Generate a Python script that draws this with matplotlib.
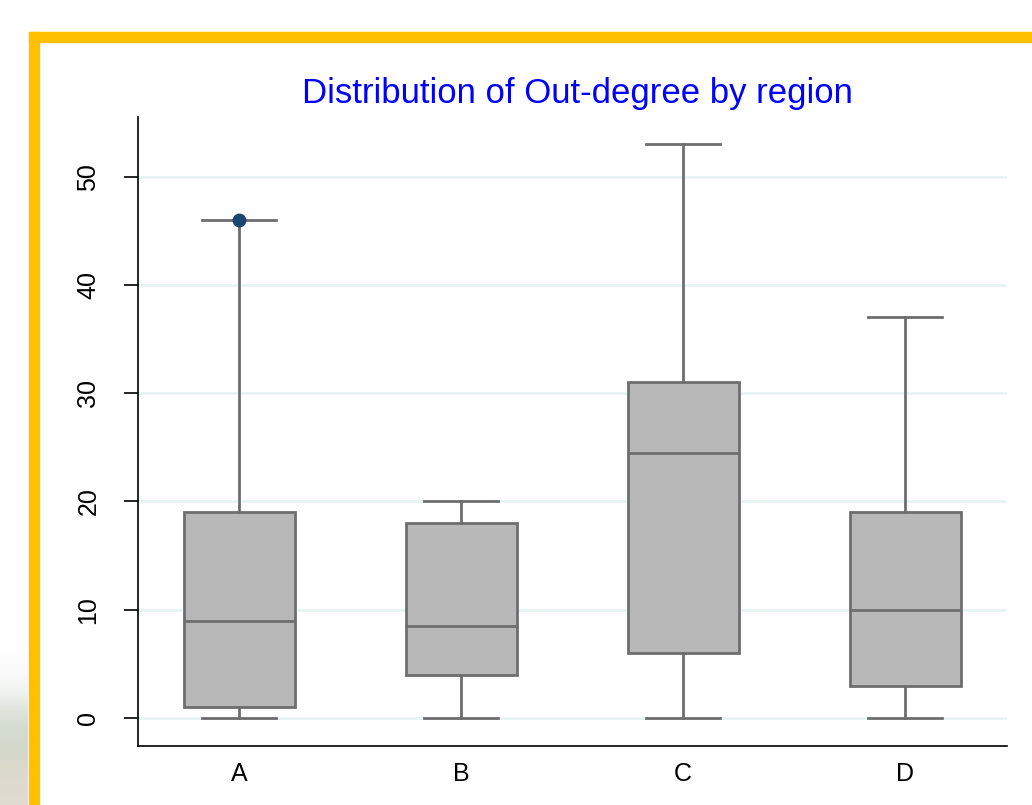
import numpy as np
import matplotlib.pyplot as plt
from matplotlib.patches import Rectangle

plt.rcParams['font.family'] = ['Liberation Sans', 'DejaVu Sans']

# box plot summary per region
regions = ['A', 'B', 'C', 'D']
whislo = [0, 0, 0, 0]
q1 = [1, 4, 6, 3]
med = [9, 8.5, 24.5, 10]
q3 = [19, 18, 31, 19]
whishi = [46, 20, 53, 37]
fliers = [[46], [], [], []]

W, H = 1032, 805
fig = plt.figure(figsize=(W / 100, H / 100), dpi=100)
fig.patch.set_facecolor('white')

# blurred slide background peeking out at the lower left
bg = fig.add_axes([0, 0, 28 / W, 150 / H])
grad = np.array([[0.99, 0.99, 0.99],
                 [0.95, 0.96, 0.95],
                 [0.84, 0.87, 0.83],
                 [0.82, 0.85, 0.80],
                 [0.86, 0.85, 0.80],
                 [0.88, 0.86, 0.82]])
bg.imshow(grad[:, None, :], aspect='auto', interpolation='bicubic')
bg.axis('off')

# yellow frame
fig.patches.append(Rectangle((29 / W, 0), 10 / W, (805 - 32) / H, transform=fig.transFigure,
                             color='#ffc000', zorder=5))
fig.patches.append(Rectangle((29 / W, (805 - 42) / H), 1 - 29 / W, 10 / H, transform=fig.transFigure,
                             color='#ffc000', zorder=5))

ax = fig.add_axes([138 / W, 59.5 / H, (1007 - 138) / W, (745.5 - 117) / H])

stats = []
for i, r in enumerate(regions):
    stats.append({'label': r, 'whislo': whislo[i], 'q1': q1[i], 'med': med[i],
                  'q3': q3[i], 'whishi': whishi[i], 'fliers': fliers[i]})

edge = '#6e6e6e'
ax.bxp(stats, positions=range(1, 5), widths=0.5, patch_artist=True,
       boxprops=dict(facecolor='#b8b8b8', edgecolor=edge, linewidth=2),
       medianprops=dict(color=edge, linewidth=2),
       whiskerprops=dict(color=edge, linewidth=2),
       capprops=dict(color=edge, linewidth=2),
       capwidths=0.33,
       flierprops=dict(marker='o', markersize=9, markerfacecolor='#1a476f',
                       markeredgecolor='#1a476f'))

ax.set_xlim(0.545, 4.459)
ax.set_ylim(-2.54, 55.51)
ax.set_yticks([0, 10, 20, 30, 40, 50])
ax.yaxis.grid(True, color='#eaf2f3', linewidth=2)
ax.set_axisbelow(True)
for s in ['top', 'right']:
    ax.spines[s].set_visible(False)
ax.spines['left'].set_linewidth(1.2)
ax.spines['bottom'].set_linewidth(1.2)
ax.tick_params(axis='y', length=10, width=1.2, labelsize=18, pad=17)
ax.tick_params(axis='x', length=0, labelsize=18, pad=12)
for lab in ax.get_yticklabels():
    lab.set_rotation(90)
    lab.set_va('center')

fig.text(577 / W, 1 - 93 / H, 'Distribution of Out-degree by region', color='#0000ff',
         fontsize=25, ha='center', va='center')

fig.savefig('out.png', dpi=100)
